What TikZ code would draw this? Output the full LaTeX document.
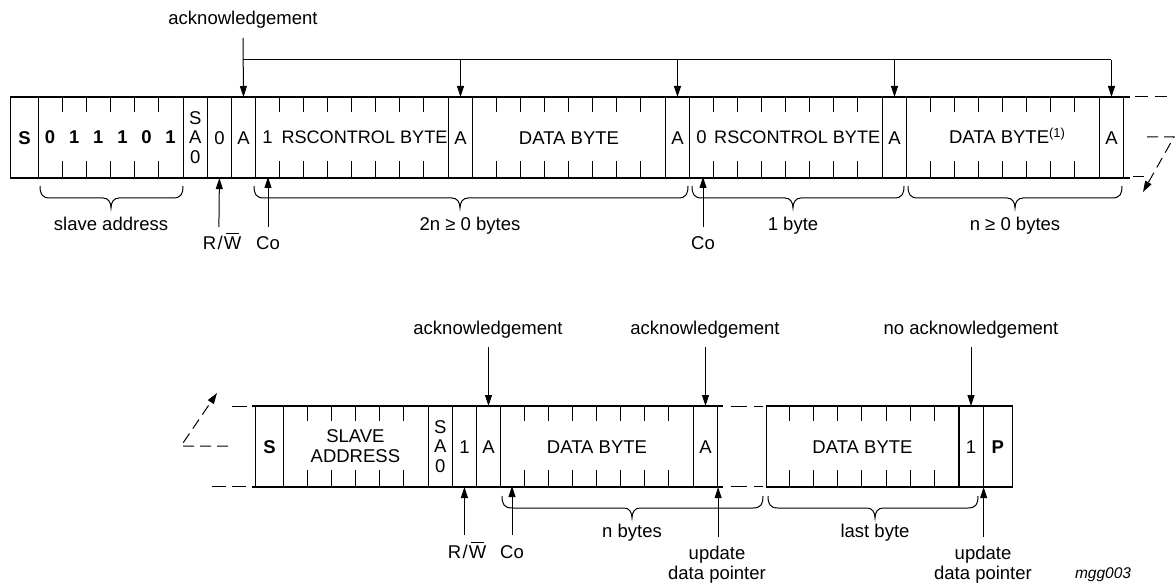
\documentclass[tikz,border=0pt]{standalone}
\usepackage{fontspec}
\setmainfont{Liberation Sans}
\usetikzlibrary{arrows.meta}
\newcommand{\fieldbrace}[4]{%
  \draw[brc] (#1,#4) .. controls (#1,#4+8) and (#1+2,#4+12) .. (#1+10,#4+12)
    -- (#3-8,#4+12) .. controls (#3-3,#4+12) and (#3,#4+16) .. (#3,#4+22)
    .. controls (#3,#4+16) and (#3+3,#4+12) .. (#3+8,#4+12)
    -- (#2-10,#4+12) .. controls (#2-2,#4+12) and (#2,#4+8) .. (#2,#4);}
\newcommand{\rwbar}{R\kern1.5pt/\kern1pt\rlap{\kern2.5pt\rule[15pt]{12.5pt}{0.9pt}}W}
\begin{document}
\begin{tikzpicture}[x=1pt,y=-1pt,
  font=\fontsize{18.5}{20}\selectfont,
  cell/.style={draw,line width=1.1pt,inner sep=0pt,minimum height=80pt,
    text height=13.2pt,text depth=0pt,anchor=north west},
  txt/.style={inner sep=0pt,text height=13.2pt,text depth=0pt},
  stack/.style={inner sep=0pt,align=center},
  frameline/.style={line width=1.8pt},
  tick/.style={line width=1.1pt},
  conn/.style={line width=1pt},
  ackarrow/.style={line width=1pt,-{Triangle[length=11pt,width=7pt]}},
  dashline/.style={line width=1pt,dash pattern=on 11pt off 6pt},
  brc/.style={line width=1pt},
  lbl/.style={anchor=base,inner sep=0pt},
]
\useasboundingbox (0,0) rectangle (1175,588);

% ================= top row =================
\node[cell,minimum width=28pt]    (tS)  at (10,97) {\bfseries S};
\node[cell,minimum width=144.7pt] (tAd) at (38,97) {};
\foreach \x/\d [count=\i] in {50.1/0,74.2/1,98.3/1,122.4/1,146.5/0,170.6/1}
  \node[txt] (tb\i) at (\x,137) {\bfseries \d};
\node[cell,minimum width=24.1pt]  (tSA) at (182.7,97) {};
\node[stack] (tSAt) at (tSA.center) {S\\[-0.5pt]A\\[-0.5pt]0};
\node[cell,minimum width=24.1pt]  (tRW) at (206.8,97) {0};
\node[cell,minimum width=24.1pt]  (tA1) at (230.9,97) {A};
\node[cell,minimum width=192.9pt] (tC1) at (255,97) {};
\node[txt] (tC1a) at (267.5,137) {1};
\node[txt,anchor=west] (tC1b) at (281.3,137) {\fontsize{18.1}{20}\selectfont RSCONTROL BYTE};
\node[cell,minimum width=24.1pt]  (tA2) at (447.9,97) {A};
\node[cell,minimum width=192.9pt] (tD1) at (472,97) {DATA BYTE};
\node[cell,minimum width=24.1pt]  (tA3) at (664.9,97) {A};
\node[cell,minimum width=192.9pt] (tC2) at (689,97) {};
\node[txt] (tC2a) at (701.5,137) {0};
\node[txt,anchor=west] (tC2b) at (714,137) {\fontsize{18.1}{20}\selectfont RSCONTROL BYTE};
\node[cell,minimum width=24.1pt]  (tA4) at (881.9,97) {A};
\node[cell,minimum width=192.9pt] (tD2) at (906,97) {};
\node[txt] (tD2t) at (1007,137) {DATA BYTE\raisebox{6pt}{\fontsize{13}{14}\selectfont(1)}};
\node[cell,minimum width=24.1pt]  (tA5) at (1098.9,97) {A};

\draw[frameline] (tS.north west) -- ([xshift=6pt]tA5.north east);
\draw[frameline] (tS.south west) -- ([xshift=6pt]tA5.south east);

\foreach \x in {62.1,86.2,110.3,134.4,158.6,
  279.1,303.2,327.3,351.4,375.6,399.7,423.8,
  496.1,520.2,544.3,568.4,592.6,616.7,640.8,
  713.1,737.2,761.3,785.4,809.6,833.7,857.8,
  930.1,954.2,978.3,1002.4,1026.6,1050.7,1074.8}
  \draw[tick] (\x,97) -- (\x,112) (\x,161) -- (\x,177);

% continuation (top right)
\draw[dashline,dash pattern=on 13pt off 7pt] (1135,97) -- (1167,97);
\draw[dashline] (1133,177) -- (1147,177);
\coordinate (trA) at (1147,137);
\coordinate (trB) at (1174,137);
\coordinate (trC) at (1143,192);
\draw[dashline,-{Triangle[length=11pt,width=7pt]}] (trA) -- (trB) -- (trC);

% acknowledgement arrows (top)
\node[lbl] (ackT) at (243,25) {acknowledgement};
\coordinate (ackTs) at (243,38);
\coordinate (hb) at (243,60);
\coordinate (he) at (1111,60);
\draw[ackarrow] (ackTs) -- (tA1.north);
\draw[conn] (hb) -- (he);
\foreach \n in {tA2,tA3,tA4,tA5}
  \draw[ackarrow] (\n.north |- hb) -- (\n.north);

% braces and labels (top)
\fieldbrace{40}{183}{111}{186}
\fieldbrace{254}{688}{460}{186}
\fieldbrace{692}{904}{793}{186}
\fieldbrace{908}{1122}{1015}{186}
\node[lbl] (lSA) at (111,230) {slave address};
\node[lbl] (l2n) at (470,230) {2n ≥ 0 bytes};
\node[lbl] (l1b) at (793,230) {1 byte};
\node[lbl] (lnb) at (1015,230) {n ≥ 0 bytes};

% R/W and Co (top)
\coordinate (rwT) at (218.9,227);
\draw[ackarrow] (rwT) -- (tRW.south);
\node[lbl] (lrwT) at (222,249) {\rwbar};
\coordinate (co1) at (268,227);
\coordinate (co1t) at (268,177);
\draw[ackarrow] (co1) -- (co1t);
\node[lbl] (lco1) at (268,249) {Co};
\coordinate (co2) at (703,227);
\coordinate (co2t) at (703,177);
\draw[ackarrow] (co2) -- (co2t);
\node[lbl] (lco2) at (703,249) {Co};

% ================= bottom row =================
\node[cell,minimum width=28pt]    (bS)  at (255,406) {\bfseries S};
\node[cell,minimum width=144.7pt] (bAd) at (283,406) {};
\node[stack] (bAdt) at (355.4,446.1) {SLAVE\\ADDRESS};
\node[cell,minimum width=24.1pt]  (bSA) at (427.7,406) {};
\node[stack] (bSAt) at (bSA.center) {S\\[-0.5pt]A\\[-0.5pt]0};
\node[cell,minimum width=24.1pt]  (bRW) at (451.8,406) {1};
\node[cell,minimum width=24.1pt]  (bA1) at (475.9,406) {A};
\node[cell,minimum width=192.9pt] (bD1) at (500,406) {DATA BYTE};
\node[cell,minimum width=24.1pt]  (bA2) at (692.9,406) {A};
\node[cell,minimum width=192.9pt] (bD2) at (765.5,406) {DATA BYTE};
\node[cell,minimum width=24.1pt]  (b1)  at (958.4,406) {1};
\node[cell,minimum width=29.5pt]  (bP)  at (982.5,406) {\bfseries P};

\draw[frameline] ([xshift=-3pt]bS.north west) -- ([xshift=5pt]bA2.north east);
\draw[frameline] ([xshift=-3pt]bS.south west) -- ([xshift=5pt]bA2.south east);
\draw[frameline] (bD2.north west) -- (bP.north east);
\draw[frameline] (bD2.south west) -- (bP.south east);

\foreach \x in {307.1,331.2,355.3,379.4,403.6,
  524.1,548.2,572.3,596.4,620.6,644.7,668.8,
  789.6,813.7,837.8,861.9,886.1,910.2,934.3}
  \draw[tick] (\x,406) -- (\x,421) (\x,470) -- (\x,486);

% gap dashes
\draw[dashline,dash pattern=on 16pt off 7pt] (731,406) -- (763,406);
\draw[dashline,dash pattern=on 16pt off 7pt] (731,486) -- (763,486);

% continuation (bottom left)
\draw[dashline,dash pattern=on 15pt off 5pt] (232,406) -- (248,406);
\draw[dashline,dash pattern=on 14pt off 6pt] (212,486) -- (248,486);
\coordinate (blA) at (228,446);
\coordinate (blB) at (181,446);
\coordinate (blC) at (217,393);
\draw[dashline,-{Triangle[length=11pt,width=7pt]}] (blA) -- (blB) -- (blC);

% acknowledgement arrows (bottom)
\node[lbl] (ackB1) at (488,334) {acknowledgement};
\node[lbl] (ackB2) at (705,334) {acknowledgement};
\node[lbl] (ackB3) at (971,334) {no acknowledgement};
\draw[ackarrow] (bA1.north |- 0,347) -- (bA1.north);
\draw[ackarrow] (bA2.north |- 0,347) -- (bA2.north);
\draw[ackarrow] (b1.north |- 0,347) -- (b1.north);

% braces and labels (bottom)
\fieldbrace{502}{763}{632}{496}
\fieldbrace{768}{978}{875}{496}
\node[lbl] (lnby) at (632,537) {n bytes};
\node[lbl] (llb) at (875,537) {last byte};

% R/W, Co, update data pointer (bottom)
\coordinate (rwB) at (bRW.south |- 0,535);
\draw[ackarrow] (rwB) -- (bRW.south);
\node[lbl] (lrwB) at (467,558) {\rwbar};
\coordinate (co3) at (512,535);
\coordinate (co3t) at (512,486);
\draw[ackarrow] (co3) -- (co3t);
\node[lbl] (lco3) at (512,558) {Co};
\coordinate (up1) at (bA2.south east |- 0,537);
\draw[ackarrow] (up1) -- (bA2.south east);
\node[stack] (lup1) at (717,564.5) {update\\data pointer};
\coordinate (up2) at (b1.south east |- 0,537);
\draw[ackarrow] (up2) -- (b1.south east);
\node[stack] (lup2) at (983,564.5) {update\\data pointer};

\node[lbl] (mgg) at (1103,578) {\fontsize{15.5}{17}\selectfont\itshape mgg003};
\end{tikzpicture}
\end{document}
